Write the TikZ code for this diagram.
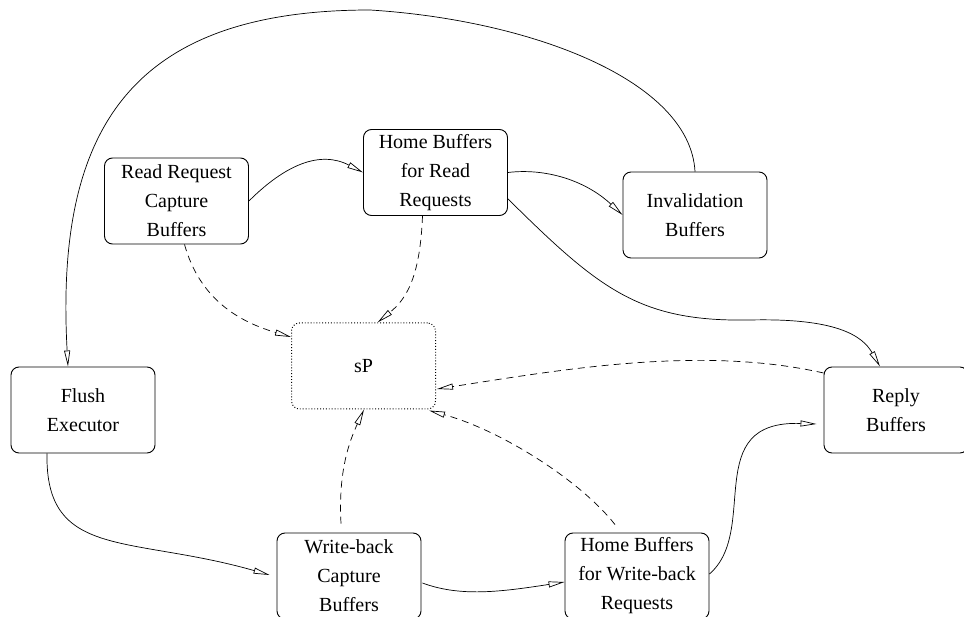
\documentclass[tikz,border=0pt]{standalone}
\usepackage{fontspec}
\setmainfont{Liberation Serif}
\usetikzlibrary{arrows.meta,calc}

\begin{document}
\begin{tikzpicture}[x=1pt,y=-1pt]
    \tikzset{
      bufbox/.style={draw=black, line width=0.9pt, rounded corners=8pt, minimum width=144pt,
        minimum height=86pt, inner sep=0pt, align=center, font=\fontsize{20}{29}\selectfont},
      spbox/.style={bufbox, dotted, line width=1pt},
      flowarr/.style={line width=0.7pt, -{Triangle[open, length=16pt, width=6pt]}},
      ctrlarr/.style={flowarr, dash pattern=on 7pt off 5pt}
    }
    \useasboundingbox (0,0) rectangle (964,617);

    % Buffers
    \node[bufbox] (rrc) at (176.5,201) {Read Request\\Capture\\Buffers};
    \node[bufbox] (hrr) at (435.5,172.5) {Home Buffers\\for Read\\Requests};
    \node[bufbox] (inv) at (695,215) {Invalidation\\Buffers};
    \node[spbox]  (sp)  at (363.5,366) {sP};
    \node[bufbox] (fe)  at (83,410) {Flush\\Executor};
    \node[bufbox] (rb)  at (896,410) {Reply\\Buffers};
    \node[bufbox] (wbc) at (349,576) {Write-back\\Capture\\Buffers};
    \node[bufbox] (hwb) at (637,576) {Home Buffers\\for Write-back\\Requests};

    % Request path
    \draw[flowarr] (rrc.east) .. controls (285,165) and (320,150) .. (hrr.west);
    \draw[flowarr] (hrr.east) .. controls (545,168) and (585,180) .. (inv.west);
    \draw[flowarr] (hrr.-20) .. controls (600,290) and (640,322) .. (750,320)
      .. controls (835,318) and (862,335) .. ($(rb.north)+(-16,0)$);
    \draw[flowarr] (inv.north) .. controls (690,80) and (530,20) .. (370,10)
      .. controls (130,10) and (55,130) .. ($(fe.north)+(-15,0)$);

    % Write-back path
    \draw[flowarr] ($(fe.south)+(-36,0)$) .. controls (45,560) and (130,535) .. ($(wbc.west)+(-7,-1)$);
    \draw[flowarr] ($(wbc.east)+(1,7)$) .. controls (460,597) and (500,592) .. ($(hwb.west)+(0,6)$);
    \draw[flowarr] ($(hwb.east)+(0,-2)$) .. controls (760,530) and (700,420) .. ($(rb.west)+(-7,14)$);

    % To sP
    \draw[ctrlarr] ($(rrc.south)+(8,0)$) .. controls (200,300) and (240,322) .. ($(sp.west)+(0,-29)$);
    \draw[ctrlarr] ($(hrr.south)+(-13,0)$) .. controls (420,280) and (405,300) .. ($(sp.north)+(14,0)$);
    \draw[ctrlarr] ($(rb.west)+(0,-37)$) .. controls (700,345) and (560,370) .. ($(sp.east)+(1,23)$);
    \draw[ctrlarr] ($(hwb.north)+(-22,-8)$) .. controls (580,480) and (500,430) .. ($(sp.south east)+(-7,1)$);
    \draw[ctrlarr] ($(wbc.north)+(-8,-9)$) .. controls (338,470) and (350,440) .. ($(sp.south)+(0.5,0)$);
\end{tikzpicture}
\end{document}
